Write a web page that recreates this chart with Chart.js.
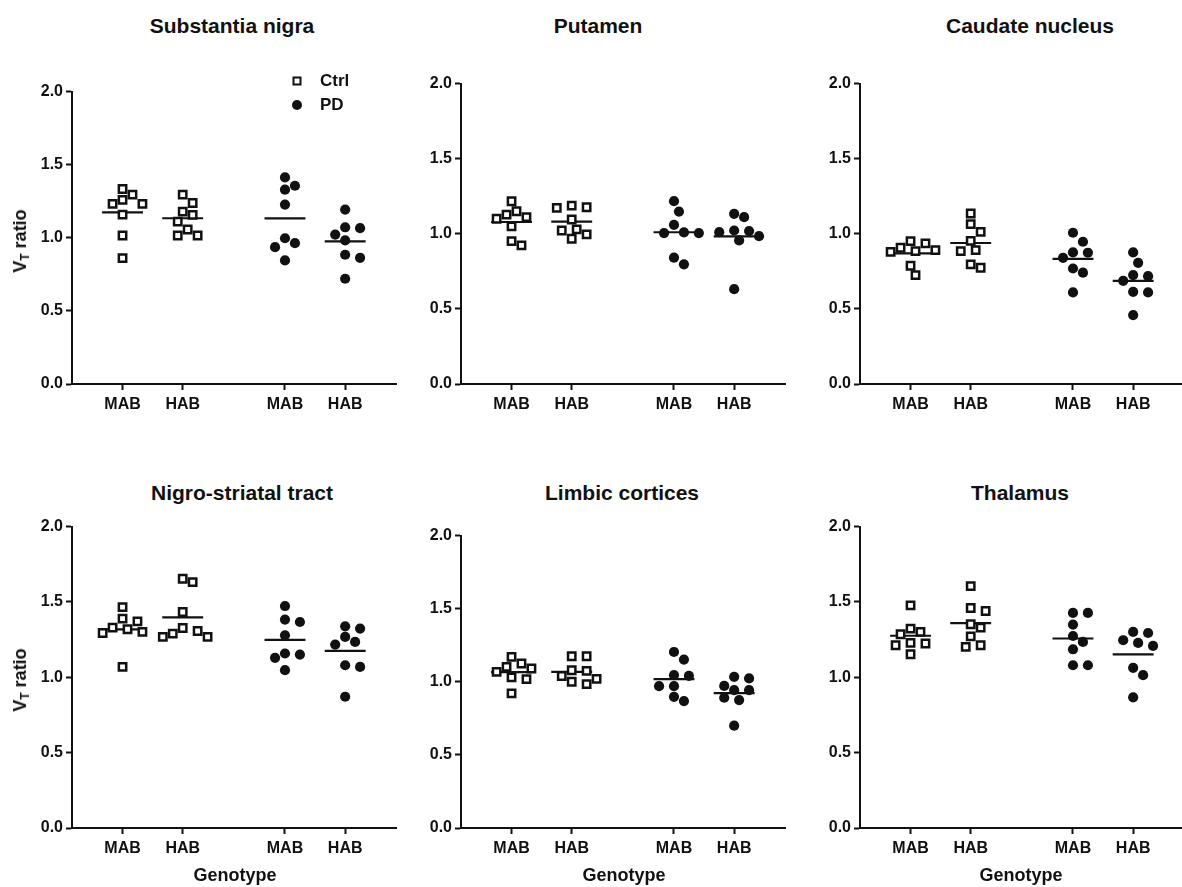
<!DOCTYPE html>
<html><head><meta charset="utf-8">
<script src="https://cdn.jsdelivr.net/npm/chart.js@4/dist/chart.umd.min.js"></script>
<style>
html,body{margin:0;padding:0;background:#fff;overflow:hidden;}
body{width:1182px;height:887px;position:relative;font-family:"Liberation Sans",Arial,sans-serif;color:#111;}
canvas{position:absolute;}
.title{position:absolute;font-weight:bold;font-size:21px;white-space:nowrap;transform:translate(-50%,-50%);}
.xlab{position:absolute;font-weight:bold;font-size:18px;white-space:nowrap;transform:translate(-50%,-50%);}
.ylab{position:absolute;font-weight:bold;font-size:18px;white-space:nowrap;transform:translate(-50%,-50%) rotate(-90deg);}
.ylab sub{font-size:12px;vertical-align:-3px;}
.leg{position:absolute;font-weight:bold;font-size:17px;white-space:nowrap;transform:translateY(-50%);}
.lsq{position:absolute;width:5px;height:5px;border:2.5px solid #111;background:#fff;transform:translate(-50%,-50%);}
.lci{position:absolute;width:10px;height:10px;border-radius:50%;background:#111;transform:translate(-50%,-50%);}
</style></head><body>
<script>
// ---- data ----
const panelTitles = ['Substantia nigra','Putamen','Caudate nucleus','Nigro-striatal tract','Limbic cortices','Thalamus'];
const groupLabels = ['MAB','HAB','MAB','HAB'];
const groupPositions = [1, 2, 3.7, 4.7];
const yTickValues = [0, 0.5, 1.0, 1.5, 2.0];
const legendLabels = ['Ctrl','PD'];
const xAxisTitle = 'Genotype';

// Substantia nigra
const snCtrlMAB = [1.334,1.295,1.259,1.232,1.232,1.159,1.016,0.861];
const snCtrlHAB = [1.295,1.238,1.179,1.157,1.111,1.057,1.016,1.016];
const snPdMAB   = [1.413,1.356,1.329,1.227,0.997,0.963,0.936,0.845];
const snPdHAB   = [1.193,1.072,1.066,1.022,0.982,0.884,0.863,0.720];
// Putamen
const puCtrlMAB = [1.217,1.150,1.128,1.111,1.100,1.049,0.951,0.923];
const puCtrlHAB = [1.188,1.177,1.173,1.095,1.029,1.022,0.996,0.967];
const puPdMAB   = [1.217,1.148,1.060,1.009,1.005,1.005,0.841,0.797];
const puPdHAB   = [1.133,1.111,1.022,1.018,1.011,0.984,0.956,0.631];
// Caudate nucleus
const caCtrlMAB = [0.951,0.936,0.907,0.891,0.885,0.880,0.787,0.725];
const caCtrlHAB = [1.135,1.064,1.013,0.953,0.891,0.885,0.796,0.774];
const caPdMAB   = [1.007,0.947,0.876,0.874,0.840,0.769,0.741,0.610];
const caPdHAB   = [0.876,0.807,0.725,0.718,0.687,0.614,0.610,0.459];
// Nigro-striatal tract
const nsCtrlMAB = [1.466,1.389,1.371,1.330,1.319,1.301,1.294,1.069];
const nsCtrlHAB = [1.654,1.632,1.433,1.327,1.307,1.290,1.268,1.268];
const nsPdMAB   = [1.473,1.383,1.367,1.279,1.158,1.151,1.129,1.047];
const nsPdHAB   = [1.338,1.323,1.268,1.235,1.217,1.080,1.069,0.871];
// Limbic cortices
const lcCtrlMAB = [1.170,1.125,1.102,1.091,1.068,1.030,1.018,0.921];
const lcCtrlHAB = [1.175,1.175,1.079,1.075,1.040,1.020,1.000,0.984];
const lcPdMAB   = [1.204,1.152,1.045,1.041,0.970,0.970,0.897,0.868];
const lcPdHAB   = [1.034,1.023,0.972,0.943,0.943,0.891,0.875,0.700];
// Thalamus
const thCtrlMAB = [1.477,1.323,1.301,1.286,1.228,1.224,1.213,1.153];
const thCtrlHAB = [1.605,1.460,1.440,1.352,1.330,1.272,1.213,1.202];
const thPdMAB   = [1.427,1.427,1.350,1.274,1.235,1.186,1.080,1.080];
const thPdHAB   = [1.301,1.294,1.246,1.228,1.208,1.063,1.014,0.867];

const panelGroups = [
  [snCtrlMAB, snCtrlHAB, snPdMAB, snPdHAB],
  [puCtrlMAB, puCtrlHAB, puPdMAB, puPdHAB],
  [caCtrlMAB, caCtrlHAB, caPdMAB, caPdHAB],
  [nsCtrlMAB, nsCtrlHAB, nsPdMAB, nsPdHAB],
  [lcCtrlMAB, lcCtrlHAB, lcPdMAB, lcPdHAB],
  [thCtrlMAB, thCtrlHAB, thPdMAB, thPdHAB]
];
const groupCondition = [0, 0, 1, 1]; // 0 = Ctrl, 1 = PD

// ---- layout ----
const X_MIN = 0.16, X_MAX = 5.55;
const INK = '#111';
const FONT = '"Liberation Sans", Arial, sans-serif';
const layout = [
  {left:72,  right:398,  top:91,  bottom:384, tx:232,  ty:26,  ylab:true,  xlab:false, legend:true},
  {left:461, right:787,  top:83,  bottom:384, tx:598,  ty:26},
  {left:860, right:1186, top:83,  bottom:384, tx:1030, ty:26},
  {left:72,  right:398,  top:526, bottom:828, tx:242,  ty:493, ylab:true, xlab:true},
  {left:461, right:787,  top:535, bottom:828, tx:622,  ty:493, xlab:true},
  {left:860, right:1186, top:526, bottom:828, tx:1020, ty:493, xlab:true}
];
const PAD_TOP = 12, PAD_RIGHT = 6, YW = 60, XH = 40;

Chart.defaults.font.family = FONT;
Chart.defaults.color = INK;

function mean(a){ return a.reduce((s,v)=>s+v,0)/a.length; }

function swarm(values, center, pxX, pxY){
  const diam = 10.5, step = 5;
  const order = values.map((v,i)=>i).sort((a,b)=>values[b]-values[a]);
  const placed = [], out = new Array(values.length);
  const cands = [0];
  for (let j=1;j<20;j++){ cands.push(j*step, -j*step); }
  for (const i of order){
    const py = values[i]*pxY;
    let off = 0;
    for (const c of cands){
      if (placed.every(p => Math.hypot(p.x-c, p.y-py) >= diam)) { off = c; break; }
    }
    placed.push({x:off, y:py});
    out[i] = {x: center + off/pxX, y: values[i]};
  }
  return out;
}

function addDiv(cls, x, y, html){
  const d = document.createElement('div');
  d.className = cls; d.style.left = x+'px'; d.style.top = y+'px';
  if (html !== undefined) d.innerHTML = html;
  document.body.appendChild(d);
  return d;
}

layout.forEach((L, pi) => {
  const cLeft = L.left - YW, cTop = L.top - PAD_TOP;
  const w = L.right + PAD_RIGHT - cLeft, h = L.bottom + XH - cTop;
  const cv = document.createElement('canvas');
  cv.width = w; cv.height = h;
  cv.style.left = cLeft+'px'; cv.style.top = cTop+'px';
  cv.style.width = w+'px'; cv.style.height = h+'px';
  document.body.appendChild(cv);

  const pxX = (L.right - L.left)/(X_MAX - X_MIN);
  const pxY = (L.bottom - L.top)/2;
  const datasets = [];
  panelGroups[pi].forEach((vals, gi) => {
    const pos = groupPositions[gi];
    const isPD = groupCondition[gi] === 1;
    datasets.push({
      data: swarm(vals, pos, pxX, pxY),
      pointStyle: isPD ? 'circle' : 'rect',
      pointRadius: isPD ? 5.1 : 5.2,
      pointBorderWidth: isPD ? 0 : 2.5,
      pointBorderColor: INK,
      pointBackgroundColor: isPD ? INK : '#fff',
      showLine: false, order: 1
    });
    const m = mean(vals);
    datasets.push({
      data: [{x: pos-0.34, y: m}, {x: pos+0.34, y: m}],
      showLine: true, borderColor: INK, borderWidth: 2.2,
      pointRadius: 0, order: 2
    });
  });

  new Chart(cv, {
    type: 'scatter',
    data: { datasets },
    options: {
      responsive: false, animation: false, devicePixelRatio: 1,
      layout: { padding: { top: PAD_TOP, right: PAD_RIGHT, left: 0, bottom: 0 } },
      plugins: { legend: { display: false }, tooltip: { enabled: false }, title: { display: false } },
      scales: {
        x: {
          type: 'linear', min: X_MIN, max: X_MAX,
          afterFit: s => { s.height = XH; },
          afterBuildTicks: s => { s.ticks = groupPositions.map(v => ({value: v})); },
          ticks: { callback: (v, i) => groupLabels[i], autoSkip: false, maxRotation: 0,
                   font: { size: 16, weight: 'bold' }, color: INK, padding: 5 },
          grid: { drawOnChartArea: false, drawTicks: true, tickLength: 6, tickWidth: 2, tickColor: INK },
          border: { display: true, color: INK, width: 2 }
        },
        y: {
          type: 'linear', min: 0, max: 2,
          afterFit: s => { s.width = YW; },
          afterBuildTicks: s => { s.ticks = yTickValues.map(v => ({value: v})); },
          ticks: { callback: v => Number(v).toFixed(1), font: { size: 16, weight: 'bold' }, color: INK, padding: 3 },
          grid: { drawOnChartArea: false, drawTicks: true, tickLength: 6, tickWidth: 2, tickColor: INK },
          border: { display: true, color: INK, width: 2 }
        }
      }
    }
  });

  addDiv('title', L.tx, L.ty, panelTitles[pi]);
  if (L.ylab) addDiv('ylab', 21, (L.top + L.bottom)/2 + 3, 'V<sub>T</sub> ratio');
  if (L.xlab) addDiv('xlab', (L.left + Math.min(L.right, 1182))/2, 875, xAxisTitle);
  if (L.legend) {
    addDiv('lsq', 297, 81);
    addDiv('leg', 320, 81, legendLabels[0]);
    addDiv('lci', 297, 105);
    addDiv('leg', 320, 105, legendLabels[1]);
  }
});
</script>
</body></html>
